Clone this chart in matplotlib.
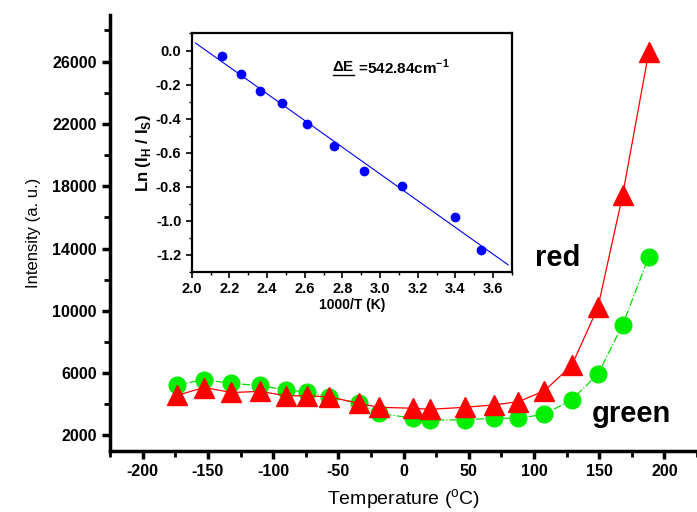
import numpy as np
import matplotlib
matplotlib.use("Agg")
import matplotlib.pyplot as plt
from matplotlib.ticker import MultipleLocator, FormatStrFormatter
from matplotlib.lines import Line2D

plt.rcParams['font.family'] = ['Liberation Sans', 'DejaVu Sans']
plt.rcParams['mathtext.fontset'] = 'custom'
plt.rcParams['mathtext.rm'] = 'Liberation Sans'
plt.rcParams['mathtext.bf'] = 'Liberation Sans:bold'
plt.rcParams['axes.unicode_minus'] = False

# main data: temperature (C) vs intensity
temp = [-174, -153, -132, -110, -90, -74, -57, -34, -19, 7, 20, 47, 69, 88, 108, 129, 149, 168, 188]
green = [5230, 5590, 5340, 5210, 4910, 4800, 4480, 4060, 3430, 3110, 3000, 3000, 3110, 3110, 3360, 4300, 5930, 9100, 13460]
red = [4570, 5080, 4760, 4830, 4550, 4550, 4480, 4060, 3810, 3750, 3680, 3810, 3960, 4170, 4870, 6500, 10220, 17440, 26610]

# inset data: 1000/T (K) vs Ln(IH/IS)
inv_t = [2.159, 2.262, 2.363, 2.481, 2.613, 2.757, 2.914, 3.114, 3.397, 3.538]
ln_ratio = [-0.033, -0.139, -0.238, -0.309, -0.432, -0.560, -0.708, -0.798, -0.978, -1.170]
fit_range = [2.02, 3.68]

fig = plt.figure(figsize=(6.97, 5.12), dpi=100)
ax = fig.add_axes([0.158, 0.119, 0.842, 0.852])

ax.plot(temp, red, '-', color='#ff0000', lw=0.9, marker='^', ms=14,
        markeredgecolor='#ff0000', markerfacecolor='#ff0000', zorder=3)
ax.plot(temp, green, '-.', color='#00e000', lw=0.9, marker='o', ms=12,
        markeredgecolor='#00ee00', markerfacecolor='#00ee00', zorder=2)

ax.set_xlim(-225, 225)
ax.set_ylim(1000, 29000)
ax.xaxis.set_major_locator(MultipleLocator(50))
ax.xaxis.set_minor_locator(MultipleLocator(25))
ax.set_yticks(np.arange(2000, 26001, 4000))
ax.set_yticks(np.arange(4000, 28001, 4000), minor=True)
for s in ['top', 'right']:
    ax.spines[s].set_visible(False)
for s in ['left', 'bottom']:
    ax.spines[s].set_linewidth(2.5)
ax.tick_params(which='major', direction='out', length=6, width=2.5, labelsize=11.5)
ax.tick_params(which='minor', direction='out', length=4, width=2)
for lb in ax.get_xticklabels() + ax.get_yticklabels():
    lb.set_fontweight('bold')
ax.set_xlabel('Temperature ($^{\\rm o}$C)', fontsize=14, labelpad=6)
ax.set_ylabel('Intensity (a. u.)', fontsize=12, labelpad=8)

ax.text(0.763, 0.443, 'red', transform=ax.transAxes, fontsize=21,
        fontweight='bold', ha='center', va='center')
ax.text(0.889, 0.085, 'green', transform=ax.transAxes, fontsize=21,
        fontweight='bold', ha='center', va='center')

# inset
ins = fig.add_axes([0.275, 0.469, 0.4595, 0.4656])
k, b = np.polyfit(inv_t, ln_ratio, 1)
xf = np.array(fit_range)
ins.plot(xf, k * xf + b, '-', color='#0000ff', lw=0.8)
ins.plot(inv_t, ln_ratio, 'o', color='#0000ff', ms=6)
ins.set_xlim(2.0, 3.7)
ins.set_ylim(-1.3, 0.1)
ins.xaxis.set_major_locator(MultipleLocator(0.2))
ins.xaxis.set_minor_locator(MultipleLocator(0.1))
ins.yaxis.set_major_locator(MultipleLocator(0.2))
ins.yaxis.set_minor_locator(MultipleLocator(0.1))
ins.xaxis.set_major_formatter(FormatStrFormatter('%.1f'))
ins.yaxis.set_major_formatter(FormatStrFormatter('%.1f'))
for s in ins.spines.values():
    s.set_linewidth(1.6)
ins.tick_params(which='major', direction='out', length=4, width=1.2, labelsize=10.5)
ins.tick_params(which='minor', direction='out', length=2.5, width=1)
for lb in ins.get_xticklabels() + ins.get_yticklabels():
    lb.set_fontweight('bold')
ins.set_xlabel('1000/T (K)', fontsize=10, fontweight='bold', labelpad=1)
ins.set_ylabel('Ln (I$_{\\mathbf{H}}$ / I$_{\\mathbf{S}}$)', fontsize=12, fontweight='bold', labelpad=2)
de = ins.text(0.44, 0.86, '\u0394E', transform=ins.transAxes,
              fontsize=11, fontweight='bold', ha='left', va='center')
fig.canvas.draw()
bb = de.get_window_extent()
ins.annotate(' =542.84cm$^{\\mathbf{-1}}$', xy=(1, 0.5), xycoords=de,
             fontsize=11, fontweight='bold', ha='left', va='center')
inv = fig.transFigure.inverted()
(x0, y0), (x1, _) = inv.transform([(bb.x0, bb.y0 - 1), (bb.x1, bb.y0 - 1)])
fig.add_artist(Line2D([x0, x1], [y0, y0], color='black', lw=1, transform=fig.transFigure))

fig.savefig('out.png', dpi=100)
